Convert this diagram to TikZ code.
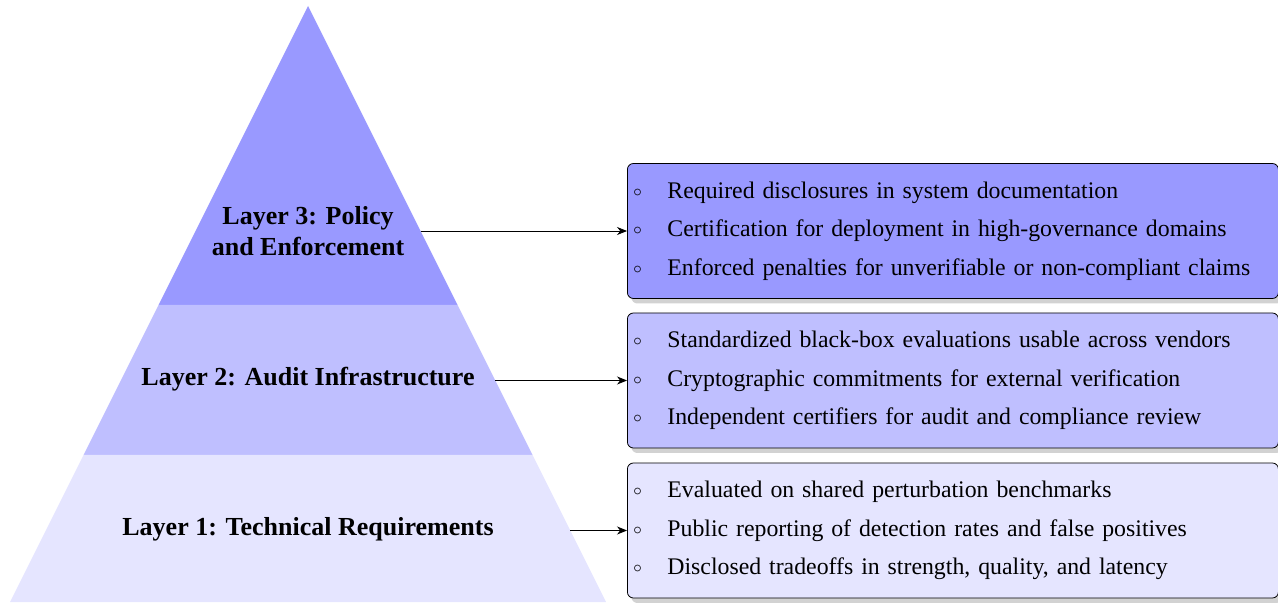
\documentclass[tikz,border=0pt]{standalone}
\usepackage{fontspec}
\setmainfont{Liberation Serif}
\usetikzlibrary{arrows.meta,shadows,positioning}
\newcommand{\itembul}{\makebox[18pt][l]{\hspace{1pt}\raisebox{1pt}{$\scriptstyle\circ$}}}

\begin{document}
\begin{tikzpicture}[x=0.5pt,y=-0.5pt,>={Stealth[length=5pt,width=4pt]},
    lay3/.style={fill=blue!40},
    lay2/.style={fill=blue!25},
    lay1/.style={fill=blue!10},
    lbl/.style={font={\bfseries\fontsize{13}{15.5}\selectfont},align=center},
    infobox/.style={draw,rounded corners=3pt,anchor=west,align=left,text width=321.5pt,inner xsep=2pt,minimum height=67.5pt,
      font={\fontsize{11.9}{19.25}\selectfont},drop shadow={shadow xshift=2pt,shadow yshift=-2.5pt,fill=black!35,opacity=.5}}]
  \useasboundingbox (0,0) rectangle (1278,603);
  % pyramid
  \fill[lay3] (308,6) -- (457.5,305) -- (158.5,305) -- cycle;
  \fill[lay2] (158.5,305) -- (457.5,305) -- (532.5,455) -- (83.5,455) -- cycle;
  \fill[lay1] (83.5,455) -- (532.5,455) -- (606,602) -- (10,602) -- cycle;
  % layer names
  \node[lbl] (l3) at (308,231) {Layer 3: Policy\\and Enforcement};
  \node[lbl] (l2) at (308,379) {Layer 2: Audit Infrastructure};
  \node[lbl] (l1) at (308,529) {Layer 1: Technical Requirements};
  % right edge of the pyramid
  \coordinate (e3) at (420.5,231);
  \coordinate (e2) at (495.25,380.5);
  \coordinate (e1) at (570.25,530.5);
  % boxes
  \node[infobox,lay3] (b3) at (627,231) {\itembul Required disclosures in system documentation\\
    \itembul Certification for deployment in high-governance domains\\
    \itembul Enforced penalties for unverifiable or non-compliant claims};
  \node[infobox,lay2] (b2) at (627,380.5) {\itembul Standardized black-box evaluations usable across vendors\\
    \itembul Cryptographic commitments for external verification\\
    \itembul Independent certifiers for audit and compliance review};
  \node[infobox,lay1] (b1) at (627,530.5) {\itembul Evaluated on shared perturbation benchmarks\\
    \itembul Public reporting of detection rates and false positives\\
    \itembul Disclosed tradeoffs in strength, quality, and latency};
  % arrows
  \draw[->] (e3) -- (b3.west);
  \draw[->] (e2) -- (b2.west);
  \draw[->] (e1) -- (b1.west);
\end{tikzpicture}
\end{document}
